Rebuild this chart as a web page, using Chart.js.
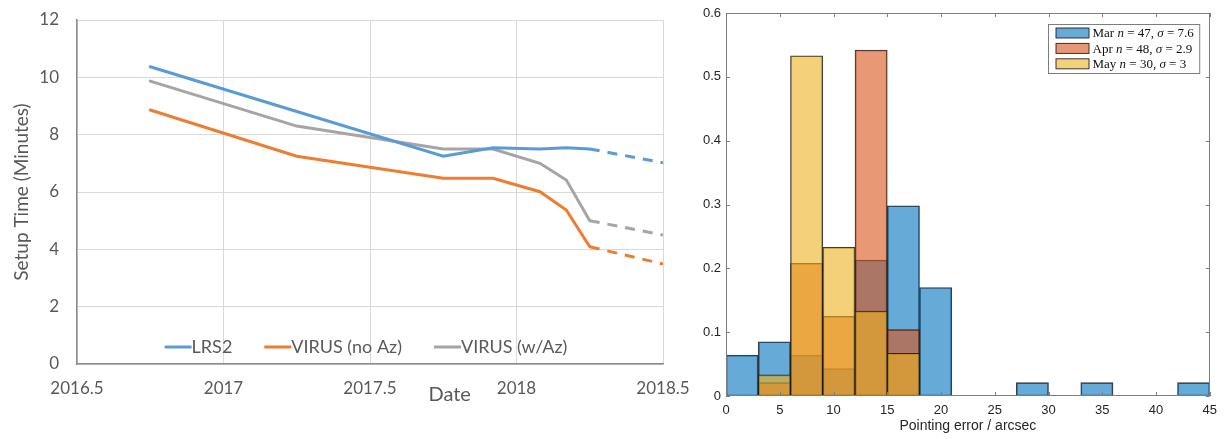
<!DOCTYPE html>
<html>
<head>
<meta charset="utf-8">
<script src="https://cdn.jsdelivr.net/npm/chart.js@4.4.1/dist/chart.umd.min.js"></script>
<style>
  html, body { margin: 0; padding: 0; background: #fff; }
  #wrap { position: relative; width: 1224px; height: 439px; overflow: hidden; }
  #boxLeft { position: absolute; left: 0; top: 0; width: 690px; height: 439px; }
  #boxRight { position: absolute; left: 690px; top: 0; width: 534px; height: 439px; }
</style>
</head>
<body>
<div id="wrap">
  <div id="boxLeft"><canvas id="setupChart"></canvas></div>
  <div id="boxRight"><canvas id="pointingChart"></canvas></div>
</div>
<script>
// ---------------------------
// left: setup time per instrument
const dates = [2016.75, 2017.25, 2017.75, 2017.92, 2018.08, 2018.17, 2018.25, 2018.5];
const lrs2 = [10.37, 8.81, 7.25, 7.54, 7.50, 7.54, 7.50, 7.02];
const virusNoAz = [8.86, 7.25, 6.48, 6.48, 6.01, 5.37, 4.09, 3.49];
const virusWAz = [9.87, 8.30, 7.50, 7.50, 7.00, 6.42, 5.00, 4.50];
const dateTicks = [2016.5, 2017, 2017.5, 2018, 2018.5];
const setupTicks = [0, 2, 4, 6, 8, 10, 12];
const forecastFrom = 2018.25; // dashed after this date

// right: pointing error histogram (fraction per 3" bin)
const binCenters = [1.5, 4.5, 7.5, 10.5, 13.5, 16.5, 19.5, 22.5, 25.5, 28.5, 31.5, 34.5, 37.5, 40.5, 43.5];
const marFrac = [0.064, 0.085, 0.064, 0.043, 0.213, 0.298, 0.170, null, null, 0.021, null, 0.021, null, null, 0.021];
const aprFrac = [null, 0.021, 0.208, 0.125, 0.542, 0.104, null, null, null, null, null, null, null, null, null];
const mayFrac = [null, 0.033, 0.533, 0.233, 0.133, 0.067, null, null, null, null, null, null, null, null, null];
const errorTicks = [0, 5, 10, 15, 20, 25, 30, 35, 40, 45];
const fracTicks = [0, 0.1, 0.2, 0.3, 0.4, 0.5, 0.6];
const months = ['Mar', 'Apr', 'May'];
const counts = [47, 48, 30];
const sigmas = ['7.6', '2.9', '3'];

const GREY = '#595959';

// ---------------------------
function mkLine(label, values, color) {
  return {
    label: label,
    data: dates.map((d, i) => ({ x: d, y: values[i] })),
    borderColor: color,
    backgroundColor: color,
    borderWidth: 3,
    pointRadius: 0,
    tension: 0,
    borderCapStyle: 'round',
    segment: {
      borderDash: ctx => ctx.p0.parsed.x >= forecastFrom ? [10, 8] : undefined,
      borderCapStyle: ctx => ctx.p0.parsed.x >= forecastFrom ? 'butt' : 'round'
    }
  };
}

// legend inside the plot, Excel style
const excelLegend = {
  id: 'excelLegend',
  afterDatasetsDraw(chart) {
    const { ctx, chartArea } = chart;
    ctx.save();
    ctx.font = '18px Lato';
    const lineLen = 27, gap = 32;
    const items = chart.data.datasets.map(ds => ({
      text: ds.label, color: ds.borderColor, w: lineLen + ctx.measureText(ds.label).width
    }));
    const total = items.reduce((s, it) => s + it.w, 0) + gap * (items.length - 1);
    let x = (chartArea.left + chartArea.right) / 2 - total / 2 - 4;
    const y = chartArea.bottom - 17;
    items.forEach(it => {
      ctx.strokeStyle = it.color;
      ctx.lineWidth = 3;
      ctx.beginPath();
      ctx.moveTo(x, y);
      ctx.lineTo(x + lineLen, y);
      ctx.stroke();
      ctx.fillStyle = GREY;
      ctx.textBaseline = 'middle';
      ctx.textAlign = 'left';
      ctx.fillText(it.text, x + lineLen, y);
      x += it.w + gap;
    });
    // "Date" sits on the tick label row
    ctx.font = '20px Lato';
    ctx.textAlign = 'center';
    ctx.fillText('Date', chartArea.left + 0.636 * (chartArea.right - chartArea.left), 395);
    ctx.restore();
  }
};

// invisible tick marks keep the labels away from the axes without
// inflating the layout padding
const HIDDEN = 'rgba(0,0,0,0)';

new Chart(document.getElementById('setupChart'), {
  type: 'line',
  data: {
    datasets: [
      mkLine('LRS2', lrs2, '#5b9bd5'),
      mkLine('VIRUS (no Az)', virusNoAz, '#ed7d31'),
      mkLine('VIRUS (w/Az)', virusWAz, '#a5a5a5')
    ]
  },
  options: {
    responsive: true,
    maintainAspectRatio: false,
    animation: false,
    layout: { padding: { left: 0, right: 27, top: 20, bottom: 0 } },
    plugins: { legend: { display: false }, tooltip: { enabled: false } },
    scales: {
      x: {
        type: 'linear', min: 2016.5, max: 2018.5,
        afterBuildTicks: s => { s.ticks = dateTicks.map(v => ({ value: v })); },
        afterFit: s => { s.height = 75; },
        grid: { color: '#d9d9d9', lineWidth: 1, drawTicks: true, tickLength: 14, tickColor: HIDDEN },
        border: { display: true, color: '#8a8a8a', width: 1.5 },
        ticks: { color: GREY, font: { family: 'Lato', size: 17 }, padding: 0, callback: v => String(v), maxRotation: 0 }
      },
      y: {
        min: 0, max: 12,
        afterBuildTicks: s => { s.ticks = setupTicks.map(v => ({ value: v })); },
        afterFit: s => { s.width = 77; },
        grid: { color: '#d9d9d9', lineWidth: 1, drawTicks: true, tickLength: 18, tickColor: HIDDEN },
        border: { display: true, color: '#8a8a8a', width: 1.5 },
        ticks: { color: GREY, font: { family: 'Lato', size: 17 }, padding: 0 },
        title: { display: true, text: 'Setup Time (Minutes)', color: GREY, font: { family: 'Lato', size: 19 }, padding: { top: 10, bottom: 10 } }
      }
    }
  },
  plugins: [excelLegend]
});

// ---------------------------
// right chart: MATLAB-ish box, inward ticks and legend
const MAR_C = 'rgba(0,114,189,0.6)', APR_C = 'rgba(217,83,25,0.6)', MAY_C = 'rgba(237,177,32,0.6)';
const EDGE = 'rgba(25,25,25,0.85)';

const matlabBox = {
  id: 'matlabBox',
  afterDraw(chart) {
    const { ctx, chartArea: a, scales: { x, y } } = chart;
    ctx.save();
    ctx.strokeStyle = '#7d7d7d';
    ctx.lineWidth = 1;
    ctx.strokeRect(Math.round(a.left) + 0.5, Math.round(a.top) + 0.5,
      Math.round(a.right - a.left) - 1, Math.round(a.bottom - a.top) - 1);
    const tl = 4;
    ctx.beginPath();
    errorTicks.forEach(v => {
      const px = Math.round(x.getPixelForValue(v)) + 0.5;
      ctx.moveTo(px, a.bottom); ctx.lineTo(px, a.bottom - tl);
      ctx.moveTo(px, a.top); ctx.lineTo(px, a.top + tl);
    });
    fracTicks.forEach(v => {
      const py = Math.round(y.getPixelForValue(v)) + 0.5;
      ctx.moveTo(a.left, py); ctx.lineTo(a.left + tl, py);
      ctx.moveTo(a.right, py); ctx.lineTo(a.right - tl, py);
    });
    ctx.stroke();

    // legend box
    const colors = [MAR_C, APR_C, MAY_C];
    const fs = 13;
    const normal = fs + 'px "Liberation Serif"', ital = 'italic ' + fs + 'px "Liberation Serif"';
    const rows = months.map((m, i) => [
      [m + ' ', normal], ['n', ital], [' = ' + counts[i] + ', ', normal], ['σ', ital], [' = ' + sigmas[i], normal]
    ]);
    const widthOf = parts => parts.reduce((s, p) => { ctx.font = p[1]; return s + ctx.measureText(p[0]).width; }, 0);
    const textW = Math.max(...rows.map(widthOf));
    const boxW = 44 + textW + 6, boxH = 49;
    const bx = Math.round(a.right - 11 - boxW) + 0.5, by = Math.round(a.top + 11) + 0.5;
    ctx.fillStyle = '#fff';
    ctx.fillRect(bx, by, boxW, boxH);
    ctx.strokeStyle = '#7d7d7d';
    ctx.strokeRect(bx, by, boxW, boxH);
    rows.forEach((parts, i) => {
      const cy = by + 8.5 + i * 15.4;
      ctx.fillStyle = colors[i];
      ctx.fillRect(bx + 7.5, cy - 5, 33, 10);
      ctx.strokeStyle = EDGE;
      ctx.strokeRect(bx + 7.5, cy - 5, 33, 10);
      let tx = bx + 44;
      ctx.fillStyle = '#111';
      ctx.textBaseline = 'middle';
      ctx.textAlign = 'left';
      parts.forEach(p => {
        ctx.font = p[1];
        ctx.fillText(p[0], tx, cy + 1);
        tx += ctx.measureText(p[0]).width;
      });
    });
    ctx.restore();
  }
};

function mkBars(label, values, color, order) {
  return {
    label: label,
    data: values,
    backgroundColor: color,
    borderColor: EDGE,
    borderWidth: 1,
    borderSkipped: false,
    barPercentage: 1,
    categoryPercentage: 1,
    grouped: false,
    order: order
  };
}

new Chart(document.getElementById('pointingChart'), {
  type: 'bar',
  data: {
    labels: binCenters,
    datasets: [
      mkBars('Mar', marFrac, MAR_C, 3),
      mkBars('Apr', aprFrac, APR_C, 2),
      mkBars('May', mayFrac, MAY_C, 1)
    ]
  },
  options: {
    responsive: true,
    maintainAspectRatio: false,
    animation: false,
    layout: { padding: { left: 0, right: 13, top: 13, bottom: 0 } },
    plugins: { legend: { display: false }, tooltip: { enabled: false } },
    scales: {
      x: {
        type: 'linear', min: 0, max: 45, offset: false,
        afterBuildTicks: s => { s.ticks = errorTicks.map(v => ({ value: v })); },
        afterFit: s => { s.height = 43; },
        grid: { display: false, drawTicks: false },
        border: { display: false },
        ticks: { color: '#262626', font: { family: 'Liberation Sans', size: 13 }, padding: 7, maxRotation: 0 },
        title: { display: true, text: 'Pointing error / arcsec', color: '#262626', font: { family: 'Liberation Sans', size: 14 }, padding: { top: 4, bottom: 4 } }
      },
      y: {
        min: 0, max: 0.6,
        afterBuildTicks: s => { s.ticks = fracTicks.map(v => ({ value: v })); },
        afterFit: s => { s.width = 36; },
        grid: { display: false, drawTicks: false },
        border: { display: false },
        ticks: { color: '#262626', font: { family: 'Liberation Sans', size: 13 }, padding: 5, callback: v => String(v) }
      }
    }
  },
  plugins: [matlabBox]
});
</script>
</body>
</html>
